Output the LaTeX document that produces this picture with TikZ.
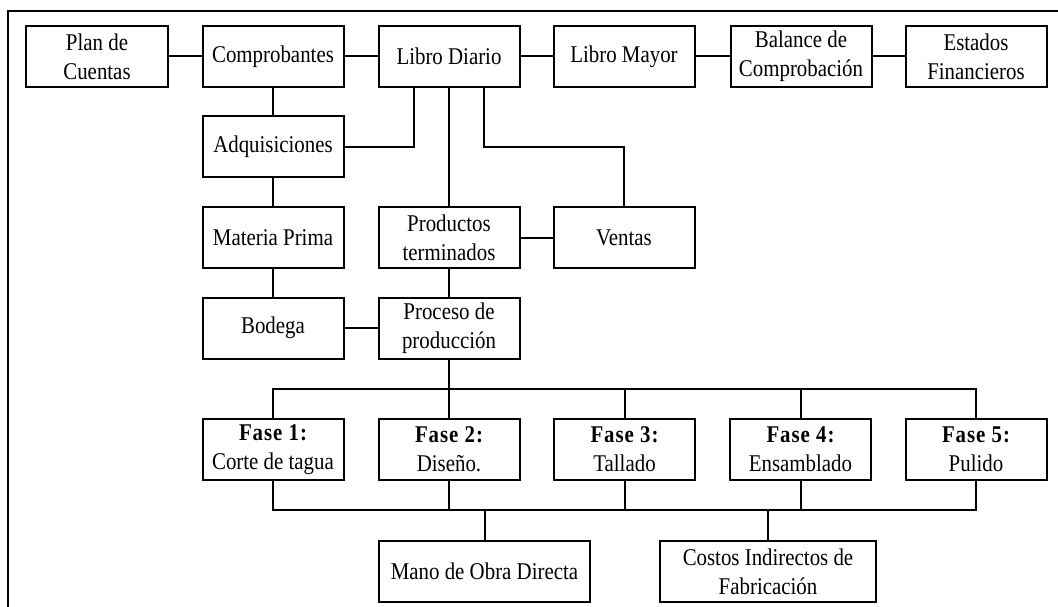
\documentclass[tikz,border=0pt]{standalone}
\usepackage{fontspec}
\setmainfont[FakeStretch=0.87]{Liberation Serif}
\newcommand{\fasehead}[1]{{\bfseries\addfontfeature{LetterSpace=4}#1}}
\tikzset{
  bx/.style={draw, line width=2pt, minimum width=141pt, minimum height=61pt,
    inner sep=0pt, align=center, font=\fontsize{24}{29}\selectfont},
  ln/.style={line width=2pt},
}
\begin{document}
\begin{tikzpicture}[x=1pt,y=-1pt]
\useasboundingbox (0,0) rectangle (1058,607);
\draw[ln] (8,607) -- (8,11) -- (1058,11);
% row 1
\node[bx, minimum width=142pt] (plan) at (97,56.5) {Plan de\\Cuentas};
\node[bx] (comp) at (273,56.5) {Comprobantes};
\node[bx] (diario) at (449,56.5) {Libro Diario};
\node[bx] (mayor) at (624,56.5) {Libro Mayor};
\node[bx] (balance) at (801,56.5) {Balance de\\Comprobación};
\node[bx] (estados) at (976,56.5) {Estados\\Financieros};
% row 2
\node[bx] (adq) at (273,147) {Adquisiciones};
% row 3
\node[bx] (mp) at (273,237.5) {Materia Prima};
\node[bx] (pt) at (449,237.5) {Productos\\terminados};
\node[bx] (ventas) at (624,237.5) {Ventas};
% row 4
\node[bx] (bodega) at (273,328) {Bodega};
\node[bx] (proceso) at (449,328) {Proceso de\\producción};
% fases
\node[bx] (f1) at (273,449.5) {\fasehead{Fase 1:}\\Corte de tagua};
\node[bx] (f2) at (449,449.5) {\fasehead{Fase 2:}\\Diseño.};
\node[bx] (f3) at (624.5,449.5) {\fasehead{Fase 3:}\\Tallado};
\node[bx] (f4) at (800.5,449.5) {\fasehead{Fase 4:}\\Ensamblado};
\node[bx] (f5) at (976,449.5) {\fasehead{Fase 5:}\\Pulido};
% bottom
\node[bx, minimum width=211pt] (mano) at (484.5,571.5) {Mano de Obra Directa};
\node[bx, minimum width=216pt] (costos) at (768,571.5) {Costos Indirectos de\\Fabricación};
% buses
\coordinate (bt) at (449,389);
\coordinate (bb) at (449,510);
% connectors
\draw[ln] (plan.east) -- (comp.west);
\draw[ln] (comp.east) -- (diario.west);
\draw[ln] (diario.east) -- (mayor.west);
\draw[ln] (mayor.east) -- (balance.west);
\draw[ln] (balance.east) -- (estados.west);
\draw[ln] (comp.south) -- (adq.north);
\draw[ln] (adq.east) -| ([xshift=-35pt]diario.south);
\draw[ln] (diario.south) -- (pt.north);
\draw[ln] ([xshift=35pt]diario.south) |- (adq.east -| ventas.north) -- (ventas.north);
\draw[ln] (adq.south) -- (mp.north);
\draw[ln] (mp.south) -- (bodega.north);
\draw[ln] (pt.east) -- (ventas.west);
\draw[ln] (pt.south) -- (proceso.north);
\draw[ln] (bodega.east) -- (proceso.west);
\draw[ln] (proceso.south) -- (bt) -- (f2.north);
\draw[ln] (f1.north) |- (bt) -| (f5.north);
\draw[ln] (f3.north) -- (f3.north |- bt);
\draw[ln] (f4.north) -- (f4.north |- bt);
\draw[ln] (f1.south) |- (bb) -| (f5.south);
\draw[ln] (f2.south) -- (f2.south |- bb);
\draw[ln] (f3.south) -- (f3.south |- bb);
\draw[ln] (f4.south) -- (f4.south |- bb);
\draw[ln] (mano.north |- bb) -- (mano.north);
\draw[ln] (costos.north |- bb) -- (costos.north);
\end{tikzpicture}
\end{document}
